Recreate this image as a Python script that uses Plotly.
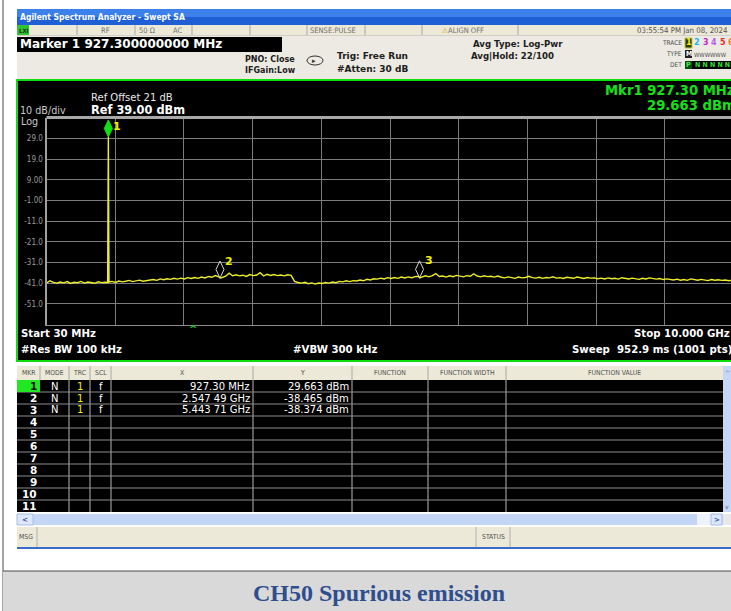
import plotly.graph_objects as go

# ---------------- instrument settings ----------------
START_MHZ = 30.0
STOP_MHZ = 10000.0
REF_DBM = 39.0
DB_PER_DIV = 10.0
N_DIV = 10

# ---------------- trace (Log-Pwr average), one reading every 50 MHz ----------------
trace_step_mhz = 50.0
trace_dbm = [
    # 30 - 880 MHz
    -40.9, -39.8, -40.6, -41.0, -40.4, -40.8, -40.2, -41.1, -40.5, -40.7, -40.1, -40.9, -40.4, -40.6, -41.0, -40.3, -40.7, -40.5,
    # 930 - 1530 MHz
    -40.4, -40.1, -40.6, -39.9, -40.3, -40.0, -39.6, -40.2, -39.8, -39.5, -40.0, -39.7, -39.4,
    # 1580 - 2230 MHz
    -39.2, -39.6, -38.9, -39.3, -38.8, -39.1, -38.6, -39.0, -38.5, -38.9, -38.3, -38.7, -38.2, -38.6,
    # 2280 - 2980 MHz
    -38.0, -38.4, -37.7, -38.1, -37.3, -37.9, -38.2, -37.6, -36.1, -37.4, -36.9, -37.4, -37.1, -37.7, -36.8,
    # 3030 - 3580 MHz
    -37.3, -37.0, -35.9, -37.5, -36.7, -37.2, -36.8, -37.3, -37.0, -37.4, -36.9, -37.2,
    # 3630 - 4130 MHz
    -40.1, -40.6, -40.9, -40.5, -41.2, -40.8, -41.4, -40.9, -41.1, -40.6, -40.9,
    # 4180 - 4630 MHz
    -40.4, -40.7, -40.1, -40.3, -39.8, -40.2, -39.7, -39.9, -39.4, -39.8,
    # 4680 - 5380 MHz
    -39.1, -39.4, -38.8, -39.0, -38.5, -38.9, -38.3, -38.7, -38.2, -38.6, -38.0, -38.4, -37.9, -38.3, -37.8,
    # 5430 - 6580 MHz
    -37.6, -38.0, -37.4, -37.9, -37.3, -36.3, -37.7, -37.5, -38.0, -37.4, -37.8, -37.2, -37.7, -37.9, -37.3, -37.6,
    -36.4, -37.5, -37.9, -37.4, -37.8, -37.6, -38.0, -37.5,
    # 6630 - 8030 MHz
    -38.1, -38.4, -37.9, -38.3, -38.6, -38.0, -38.4, -38.2, -37.6, -38.3, -38.5, -38.1, -38.6, -38.2, -38.4, -37.9,
    -38.5, -38.3, -38.7, -38.1, -38.4, -38.6, -38.0, -38.3, -38.7, -38.2, -38.5, -38.4, -38.8,
    # 8080 - 9030 MHz
    -38.5, -38.9, -38.4, -38.8, -38.6, -39.0, -38.3, -38.7, -38.9, -38.5, -38.8, -39.1, -38.6, -38.9, -38.4, -38.8,
    -39.0, -38.7, -39.2, -38.9,
    # 9080 - 9980 MHz
    -39.1, -39.4, -39.0, -39.5, -39.2, -39.6, -38.9, -39.3, -39.5, -39.1, -39.4, -39.7, -39.2, -39.5, -39.3, -39.6,
    -39.4, -39.8, -39.5,
]

# carrier sweep point and its two neighbours (9.97 MHz point spacing)
carrier_freq_mhz = [917.33, 927.30, 937.27]
carrier_dbm = [-40.6, 29.663, -40.4]

# ---------------- markers ----------------
marker_ids = [1, 2, 3]
marker_freq_mhz = [927.30, 2547.49, 5443.71]
marker_dbm = [29.663, -38.465, -38.374]
marker_x_text = ["927.30 MHz", "2.547 49 GHz", "5.443 71 GHz"]
marker_y_text = ["29.663 dBm", "-38.465 dBm", "-38.374 dBm"]

# ---------------- amplitude scale labels ----------------
y_tick_values = [29, 19, 9, -1, -11, -21, -31, -41, -51]
y_tick_text = ["29.0", "19.0", "9.00", "-1.00", "-11.0", "-21.0", "-31.0", "-41.0", "-51.0"]

# ================================================================
W, H = 731, 611
SANS = "DejaVu Sans"
COND = "DejaVu Sans Condensed"
SERIF = "Liberation Serif"

# graticule geometry (pixels)
GRAT_LEFT, GRAT_TOP, GRAT_BOTTOM = 46.5, 117.6, 324.7
DIV_PX = 68.7
PX_PER_DB = (GRAT_BOTTOM - GRAT_TOP) / (N_DIV * DB_PER_DIV)
MHZ_PER_DIV = (STOP_MHZ - START_MHZ) / N_DIV
x_visible_max = START_MHZ + (W - GRAT_LEFT) / DIV_PX * MHZ_PER_DIV
y_bottom = REF_DBM - N_DIV * DB_PER_DIV


def px(x):
    return x / W


def py(y):
    return 1 - y / H


shapes = []
annotations = []


def rect(x0, y0, x1, y1, fill, line_color=None, lw=0, layer="below"):
    shapes.append(dict(type="rect", xref="paper", yref="paper",
                       x0=px(x0), x1=px(x1), y0=py(y1), y1=py(y0),
                       fillcolor=fill, layer=layer,
                       line=dict(width=lw, color=line_color or fill)))


def hline(x0, x1, y, color, lw=1, layer="below"):
    shapes.append(dict(type="line", xref="paper", yref="paper",
                       x0=px(x0), x1=px(x1), y0=py(y), y1=py(y),
                       layer=layer, line=dict(color=color, width=lw)))


def vline(x, y0, y1, color, lw=1, layer="below"):
    shapes.append(dict(type="line", xref="paper", yref="paper",
                       x0=px(x), x1=px(x), y0=py(y0), y1=py(y1),
                       layer=layer, line=dict(color=color, width=lw)))


def text(x, y, s, size, color, family=SANS, anchor="left", bold=False):
    if bold:
        s = "<b>" + s + "</b>"
    annotations.append(dict(x=px(x), y=py(y), xref="paper", yref="paper",
                            text=s, showarrow=False, xanchor=anchor,
                            yanchor="middle", borderpad=0,
                            font=dict(size=size, color=color, family=family)))


# ---------- page frame ----------
vline(3, 0, H, "#4a4a4a", 1)

# ---------- title bar ----------
rect(17, 9, W, 17, "#3C80EC")
rect(17, 17, W, 25, "#1F5FD6")
text(19, 17, "Agilent Spectrum Analyzer - Swept SA", 8.5, "white", COND, bold=True)

# ---------- status line ----------
rect(17, 25, W, 35, "#ECE9D8")
for sx in [77, 135, 192, 250, 307, 365, 422, 518]:
    vline(sx, 25, 35, "#A8A8A8")
rect(17, 25, 29, 35, "#33C233")
text(18, 30, "LXI", 6, "#0a3a0a", COND, bold=True)
text(105, 30, "RF", 7.5, "#707070", COND, anchor="center")
text(147, 30, "50 Ω", 7.5, "#707070", COND, anchor="center")
text(177, 30, "AC", 7.5, "#707070", COND, anchor="center")
text(333, 30, "SENSE:PULSE", 7.5, "#707070", COND, anchor="center")
text(441, 30, "<span style='color:#D8B000'>⚠</span>ALIGN OFF", 7.5, "#707070", COND)
text(729, 30, "03:55:54 PM Jan 08, 2024", 7.8, "#505050", COND, anchor="right")

# ---------- settings area ----------
rect(17, 35, W, 79, "#ECEAE2")
hline(17, W, 35.5, "#D0CEC6")
rect(17, 37, 282, 52, "#000000")
text(19, 44.5, "Marker 1 927.300000000 MHz", 12, "white", SANS, bold=True)
text(244, 59.5, "PNO: Close", 8, "#202020", SANS, bold=True)
text(244, 70.5, "IFGain:Low", 8, "#202020", SANS, bold=True)
shapes.append(dict(type="circle", xref="paper", yref="paper",
                   x0=px(307), x1=px(323), y0=py(65), y1=py(56),
                   line=dict(color="#303030", width=1), layer="below"))
text(311, 61, "▸", 7, "#303030", SANS)
text(336, 56, "Trig: Free Run", 9, "#202020", SANS, bold=True)
text(336, 69, "#Atten: 30 dB", 9, "#202020", SANS, bold=True)
text(472, 44, "Avg Type: Log-Pwr", 8.6, "#202020", SANS, bold=True)
text(470, 56, "Avg|Hold: 22/100", 8.6, "#202020", SANS, bold=True)

# trace / type / detector indicators
text(683, 43, "TRACE", 6.5, "#505050", COND, anchor="right")
text(683, 54, "TYPE", 6.5, "#505050", COND, anchor="right")
text(683, 65, "DET", 6.5, "#505050", COND, anchor="right")
rect(685, 38, 692, 48, "#2E3A12", "#C8C830", 1)
trace_colors = ["#F4F400", "#10B8F0", "#C828C8", "#B060E8", "#F02828", "#F08020"]
for k, c in enumerate(trace_colors):
    text(688.5 + 8.5 * k, 43, str(k + 1), 8, c, SANS, anchor="center", bold=True)
rect(685, 50, 692, 58, "#202020")
text(688.5, 54, "M", 7, "white", COND, anchor="center", bold=True)
text(693, 54, "WWWWWW", 6, "#505050", COND)
rect(685, 61, W, 69, "#000000")
rect(685, 61, 692, 69, "#0E4A0E")
text(688.5, 65, "P", 7, "#40F040", COND, anchor="center", bold=True)
text(694, 65, "N N N N N", 7, "#30E030", COND, bold=True)

# ---------- measurement panel ----------
rect(17, 80, W + 2, 361, "#000000", "#10DD10", 2)
text(90, 97, "Ref Offset 21 dB", 10, "#E8E8E8", SANS)
text(19, 110.5, "10 dB/div", 9.6, "#C8C8C8", SANS)
text(20, 121.5, "Log", 9.6, "#C8C8C8", SANS)
text(90, 110, "Ref 39.00 dBm", 11.4, "white", SANS, bold=True)
text(736, 90, "Mkr1 927.30 MHz", 13.2, "#18E018", SANS, anchor="right", bold=True)
text(737, 105.5, "29.663 dBm", 13.2, "#18E018", SANS, anchor="right", bold=True)
text(20, 333, "Start 30 MHz", 10.2, "white", SANS, bold=True)
text(20, 349, "#Res BW 100 kHz", 10.2, "white", SANS, bold=True)
text(292, 349, "#VBW 300 kHz", 10.2, "white", SANS, bold=True)
text(731, 333, "Stop 10.000 GHz", 10.2, "white", SANS, anchor="right", bold=True)
text(733, 349, "Sweep  952.9 ms (1001 pts)", 10.2, "white", SANS, anchor="right", bold=True)
text(193, 329.5, "^", 10, "#18C018", SANS, anchor="center", bold=True)

# ---------- marker table ----------
rect(17, 366, 723, 380, "#ECE9D8")
rect(17, 380, 723, 512, "#000000")
col_edges = [40, 69, 90, 111, 253, 352, 428, 506]
for cx in col_edges:
    vline(cx, 366, 380, "#A8A8A8")
for cx in col_edges[1:]:
    vline(cx, 380, 512, "#B8B8B8")
for r in range(1, 11):
    hline(17, 723, 380 + 12 * r, "#8C8C8C")
headers = [("MKR", 28.5), ("MODE", 54.5), ("TRC", 79.5), ("SCL", 100.5), ("X", 182), ("Y", 302.5),
           ("FUNCTION", 390), ("FUNCTION WIDTH", 467), ("FUNCTION VALUE", 614)]
for label, cx in headers:
    text(cx, 373, label, 6.8, "#505050", COND, anchor="center")

rect(17, 380, 40, 392, "#22E822")
for row in range(1, 12):
    ry = 386 + 12 * (row - 1)
    text(37.5, ry, str(row), 10.5, "#101010" if row == 1 else "white", SANS, anchor="right", bold=True)
for i, mid in enumerate(marker_ids):
    ry = 386 + 12 * (mid - 1)
    text(54.5, ry, "N", 10, "white", SANS, anchor="center")
    text(79.5, ry, "1", 10, "#F4F400", SANS, anchor="center")
    text(100.5, ry, "f", 10, "white", SANS, anchor="center")
    text(250.5, ry, marker_x_text[i], 10, "white", SANS, anchor="right")
    text(349.5, ry, marker_y_text[i], 10, "white", SANS, anchor="right")

# scroll bars
rect(723, 366, W, 512, "#C6D6F6")
text(727, 372, "^", 6, "#4060A0", SANS, anchor="center")
text(727, 506, "v", 6, "#4060A0", SANS, anchor="center")
rect(17, 514, 723, 525, "#C4D6F6")
rect(17, 514, 33, 525, "#DDE7FA", "#A8BCE8", 1)
text(25, 519.5, "<", 7, "#3050A0", SANS, anchor="center", bold=True)
rect(697, 514, 711, 525, "#EEF2FA")
rect(711, 514, 722, 525, "#DDE7FA", "#A8BCE8", 1)
text(716.5, 519.5, ">", 7, "#3050A0", SANS, anchor="center", bold=True)
rect(723, 514, W, 525, "#E8E8E8")

# message bar
rect(17, 527, W, 547, "#ECE9D8")
vline(37, 527, 547, "#B0B0B0")
vline(476, 527, 547, "#B0B0B0")
vline(510, 527, 547, "#B0B0B0")
text(18, 537, "MSG", 6.8, "#505050", COND)
text(493, 537, "STATUS", 6.8, "#505050", COND, anchor="center")
hline(17, W, 548, "#3A6CCB", 2)

# ---------- caption ----------
rect(3, 571, W, H, "#D9D9D9")
hline(3, W, 571, "#4a4a4a", 1)
text(379, 593, "CH50 Spurious emission", 24, "#2E4E8E", SERIF, anchor="center", bold=True)

# ================= spectrum =================
grid_freq = [START_MHZ + trace_step_mhz * i for i in range(len(trace_dbm))]
pts = list(zip(grid_freq, trace_dbm))
pts += list(zip(carrier_freq_mhz, carrier_dbm))
pts += list(zip(marker_freq_mhz[1:], marker_dbm[1:]))
pts = sorted(set(pts))
x_freq = [p[0] for p in pts]
y_lvl = [p[1] for p in pts]

fig = go.Figure()
fig.add_trace(go.Scatter(x=x_freq, y=y_lvl, mode="lines",
                         line=dict(color="#EDED2A", width=1.4), hoverinfo="skip",
                         showlegend=False))

# marker diamonds (tip on the trace point) and their numbers
label_gap = 17
for mid, f, v in zip(marker_ids, marker_freq_mhz, marker_dbm):
    active = mid == 1
    shapes.append(dict(type="path", xref="x", yref="y",
                       xsizemode="pixel", ysizemode="pixel",
                       xanchor=f, yanchor=v,
                       path="M0,0 L4,8.5 L0,17 L-4,8.5 Z",
                       fillcolor="#10E010" if active else "rgba(0,0,0,0)",
                       line=dict(color="#10E010" if active else "#D8D8D8", width=1),
                       layer="above"))
    point_px = GRAT_TOP + (REF_DBM - v) * PX_PER_DB
    label_px = max(point_px - label_gap, GRAT_TOP + 9)
    annotations.append(dict(x=f, y=v, xref="x", yref="y", text="<b>%d</b>" % mid,
                            showarrow=False, xanchor="center", yanchor="middle",
                            xshift=9, yshift=point_px - label_px,
                            font=dict(size=11, color="#F0F000", family=SANS)))

# graticule top edge
shapes.append(dict(type="line", xref="x domain", yref="y domain", x0=0, x1=1, y0=1, y1=1,
                   line=dict(color="#A8A8A8", width=3), layer="above"))

fig.update_layout(
    width=W, height=H,
    margin=dict(l=0, r=0, t=0, b=0),
    paper_bgcolor="white",
    plot_bgcolor="black",
    shapes=shapes,
    annotations=annotations,
    showlegend=False,
    xaxis=dict(domain=[px(GRAT_LEFT), 1], range=[START_MHZ, x_visible_max],
               tickvals=[START_MHZ + MHZ_PER_DIV * k for k in range(1, N_DIV)],
               showticklabels=False, ticks="", showgrid=True,
               gridcolor="#7C7C7C", gridwidth=1, zeroline=False,
               showline=True, linecolor="#8C8C8C", linewidth=1),
    yaxis=dict(domain=[py(GRAT_BOTTOM), py(GRAT_TOP)], range=[y_bottom, REF_DBM],
               tickvals=y_tick_values, ticktext=y_tick_text, ticks="",
               tickfont=dict(size=8, color="#9C9C9C", family=COND),
               showgrid=True, gridcolor="#7C7C7C", gridwidth=1, zeroline=False,
               showline=True, linecolor="#A0A0A0", linewidth=2),
)

fig.write_html("out.html")
